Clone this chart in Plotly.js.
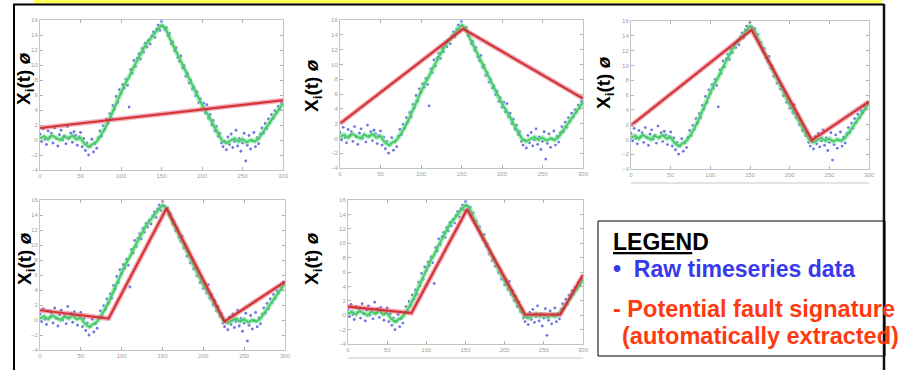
<!DOCTYPE html>
<html>
<head>
<meta charset="utf-8">
<script src="https://cdn.plot.ly/plotly-3.0.1.min.js"></script>
<style>html,body{margin:0;padding:0;background:#fff;}#chart{width:913px;height:370px;}</style>
</head>
<body>
<div id="chart"></div>
<script>
// ---- data ----
var rawT = [0,2,4,6,8,10,12,14,16,18,20,22,24,26,28,30,32,34,36,38,40,42,44,46,48,50,52,54,56,58,60,62,64,66,68,70,72,74,76,78,80,82,84,86,88,90,92,94,96,98,100,102,104,106,108,110,112,114,116,118,120,122,124,126,128,130,132,134,136,138,140,142,144,146,148,150,152,154,156,158,160,162,164,166,168,170,172,174,176,178,180,182,184,186,188,190,192,194,196,198,200,202,204,206,208,210,212,214,216,218,220,222,224,226,228,230,232,234,236,238,240,242,244,246,248,250,252,254,256,258,260,262,264,266,268,270,272,274,276,278,280,282,284,286,288,290,292,294,296,298];
var rawV = [0.8,-0.2,1.5,0.1,-0.6,1.2,0.4,0.9,-0.4,1.6,0.2,-0.8,0.7,1.3,0.0,0.5,-0.5,1.8,0.3,0.9,-0.3,1.1,0.6,-0.7,0.4,1.0,-0.9,0.2,-1.4,-0.4,-2.0,-0.9,0.1,-1.6,-0.5,-1.1,0.3,1.2,0.5,1.9,1.4,2.8,2.2,3.5,2.9,4.6,4.1,5.8,5.0,6.7,6.2,7.4,6.9,8.1,7.3,4.4,9.4,8.9,10.6,9.8,10.9,11.5,10.8,12.2,11.7,12.9,12.4,13.3,12.8,13.9,14.4,13.7,14.8,15.3,14.6,15.8,15.2,14.7,15.0,13.9,14.2,12.8,13.1,11.9,12.3,11.0,10.5,11.2,9.6,9.9,8.5,8.9,7.6,8.0,6.8,7.1,5.9,6.4,5.0,5.5,4.2,4.9,3.6,4.7,2.9,3.4,2.0,2.6,1.2,1.8,0.5,0.9,-0.4,-0.9,-0.2,-1.3,0.4,-0.6,0.8,-1.0,-0.2,1.3,-0.8,0.2,-1.5,-0.4,0.9,-2.8,-0.7,0.6,-1.2,-0.1,1.0,-0.9,0.3,-0.5,0.8,1.6,0.9,2.2,1.5,2.8,2.3,3.4,2.9,3.9,3.6,4.5,4.1,5.0];
var smoothT = [0,5,10,15,20,25,30,35,40,45,50,55,60,65,70,75,80,85,90,95,100,105,110,115,120,125,130,135,140,145,150,155,160,165,170,175,180,185,190,195,200,205,210,215,220,225,230,235,240,245,250,255,260,265,270,275,280,285,290,295,300];
var smoothV = [0.2,0.5,0.1,0.6,0.3,0.0,0.5,0.2,0.6,0.1,0.3,-0.5,-0.9,-0.6,-0.2,0.6,1.5,2.6,3.9,5.2,6.3,7.5,8.4,9.6,10.7,11.6,12.6,13.3,14.1,14.7,15.3,14.9,13.6,12.5,11.3,10.2,9.0,7.9,6.8,5.7,4.7,3.8,2.9,1.8,0.8,-0.1,-0.4,-0.1,0.2,-0.2,0.1,-0.3,0.0,-0.2,0.2,1.0,1.8,2.6,3.4,4.2,4.9];
var fit1T = [0,300],                  fit1V = [1.6,5.3];
var fit2T = [0,152,300],              fit2V = [2.0,14.8,5.4];
var fit3T = [0,152,228,300],          fit3V = [1.9,14.8,-0.1,5.1];
var fit4T = [0,84,155,226,300],       fit4V = [1.3,0.2,14.9,-0.2,5.1];
var fit5T = [0,81,152,226,271,300],   fit5V = [1.2,0.3,14.7,0.1,0.1,5.6];
var fits = [[fit1T,fit1V],[fit2T,fit2V],[fit3T,fit3V],[fit4T,fit4V],[fit5T,fit5V]];
var xTicks = [0,50,100,150,200,250,300];
var yTicks = [-4,-2,0,2,4,6,8,10,12,14,16];
var yTitle = "<b>X<sub>i</sub>(t) <i>ø</i></b>";
var legendTitle = "<b><u>LEGEN</u>D</b>";
var legendRaw = "<b>•  Raw timeseries data</b>";
var legendFit1 = "<b>- Potential fault signature</b>";
var legendFit2 = "<b>(automatically extracted)</b>";

// ---- layout helpers ----
var W = 913, H = 370;
function px(x){return x/W;}
function py(y){return 1 - y/H;}
// pixel boxes of the five panels [left,right,top,bottom]
var boxes = [[40,283,20,170],[340,583,20,168],[631,869,21,169],[40,285,200,350],[348,583,200,344]];
var titlePos = [[25,79],[313,86],[605,83],[26,259],[313,259]];

var data = [];
var layout = {
  width: W, height: H, margin: {l:0,r:0,t:0,b:0},
  paper_bgcolor: '#ffffff', plot_bgcolor: '#ffffff',
  showlegend: false,
  font: {family: 'Liberation Sans, Arial, sans-serif'},
  shapes: [], annotations: []
};

for (var k = 0; k < 5; k++) {
  var n = k + 1;
  var xa = 'x' + (n === 1 ? '' : n), ya = 'y' + (n === 1 ? '' : n);
  var b = boxes[k];
  var axStyle = {
    showline: true, mirror: 'ticks', linecolor: '#c4c4c4', linewidth: 1,
    ticks: 'inside', ticklen: 3, tickcolor: '#b0b0b0',
    showgrid: false, zeroline: false,
    tickfont: {size: 6, color: '#a0a0a0'}, fixedrange: true
  };
  layout['xaxis' + (n === 1 ? '' : n)] = Object.assign({}, axStyle, {
    domain: [px(b[0]), px(b[1])], range: [0, 300], tickvals: xTicks,
    anchor: ya
  });
  layout['yaxis' + (n === 1 ? '' : n)] = Object.assign({}, axStyle, {
    domain: [py(b[3]), py(b[2])], range: [-4, 16], tickvals: yTicks,
    anchor: xa
  });
  // raw data
  data.push({x: rawT, y: rawV, xaxis: xa, yaxis: ya, type: 'scatter', mode: 'markers',
    marker: {size: 2.8, color: 'rgba(60,70,220,0.75)'}, hoverinfo: 'skip'});
  // green smoothed curve
  data.push({x: smoothT, y: smoothV, xaxis: xa, yaxis: ya, type: 'scatter', mode: 'lines',
    line: {color: 'rgba(120,230,150,0.55)', width: 5}, hoverinfo: 'skip'});
  data.push({x: smoothT, y: smoothV, xaxis: xa, yaxis: ya, type: 'scatter', mode: 'lines',
    line: {color: 'rgba(60,200,90,0.9)', width: 2}, hoverinfo: 'skip'});
  // red fit
  data.push({x: fits[k][0], y: fits[k][1], xaxis: xa, yaxis: ya, type: 'scatter', mode: 'lines',
    line: {color: 'rgba(235,110,130,0.55)', width: 5}, hoverinfo: 'skip'});
  data.push({x: fits[k][0], y: fits[k][1], xaxis: xa, yaxis: ya, type: 'scatter', mode: 'lines',
    line: {color: 'rgba(205,40,40,0.9)', width: 2.2}, hoverinfo: 'skip'});
  // y title
  layout.annotations.push({xref: 'paper', yref: 'paper', x: px(titlePos[k][0]), y: py(titlePos[k][1]),
    text: yTitle, textangle: -90, showarrow: false, xanchor: 'center', yanchor: 'middle',
    font: {size: 19, color: '#000'}});
}

// extra axis lines under panels 3 and 5
layout.shapes.push({type: 'line', xref: 'paper', yref: 'paper', x0: px(631), x1: px(869), y0: py(183), y1: py(183), line: {color: '#c8c8c8', width: 1}});
layout.shapes.push({type: 'line', xref: 'paper', yref: 'paper', x0: px(348), x1: px(583), y0: py(358), y1: py(358), line: {color: '#c8c8c8', width: 1}});

// slide frame
layout.shapes.push({type: 'rect', xref: 'paper', yref: 'paper', x0: px(34), x1: px(882), y0: py(0), y1: py(3.5), fillcolor: '#ffff55', line: {width: 0}, layer: 'above'});
layout.shapes.push({type: 'line', xref: 'paper', yref: 'paper', x0: px(13), x1: px(884), y0: py(4.5), y1: py(4.5), line: {color: '#000', width: 2}, layer: 'above'});
layout.shapes.push({type: 'line', xref: 'paper', yref: 'paper', x0: px(14), x1: px(14), y0: py(4), y1: py(370), line: {color: '#000', width: 2}, layer: 'above'});
layout.shapes.push({type: 'line', xref: 'paper', yref: 'paper', x0: px(884), x1: px(884), y0: py(4), y1: py(370), line: {color: '#111', width: 2.5}, layer: 'above'});

// legend box
layout.shapes.push({type: 'rect', xref: 'paper', yref: 'paper', x0: px(598), x1: px(885), y0: py(356), y1: py(221), line: {color: '#000', width: 1}, fillcolor: 'rgba(255,255,255,0)'});
layout.annotations.push({xref: 'paper', yref: 'paper', x: px(611), y: py(242), xanchor: 'left', yanchor: 'middle', showarrow: false, text: legendTitle, font: {size: 23, color: '#000'}});
layout.annotations.push({xref: 'paper', yref: 'paper', x: px(611), y: py(269), xanchor: 'left', yanchor: 'middle', showarrow: false, text: legendRaw, font: {size: 23, color: '#3838ee'}});
layout.annotations.push({xref: 'paper', yref: 'paper', x: px(611), y: py(309), xanchor: 'left', yanchor: 'middle', showarrow: false, text: legendFit1, font: {size: 23.5, color: '#ff3a10'}});
layout.annotations.push({xref: 'paper', yref: 'paper', x: px(620), y: py(336), xanchor: 'left', yanchor: 'middle', showarrow: false, text: legendFit2, font: {size: 23.5, color: '#ff3a10'}});

Plotly.newPlot('chart', data, layout, {displayModeBar: false, staticPlot: true});
</script>
</body>
</html>
